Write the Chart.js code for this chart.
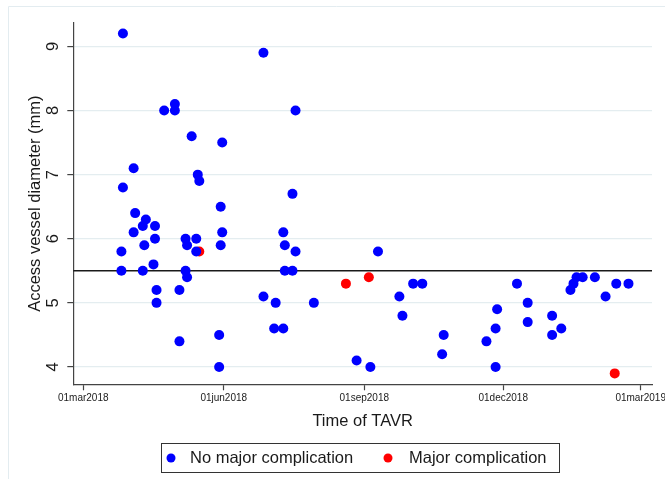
<!DOCTYPE html>
<html>
<head>
<meta charset="utf-8">
<script src="https://cdn.jsdelivr.net/npm/chart.js@4.4.1/dist/chart.umd.min.js"></script>
<style>
html,body{margin:0;padding:0;background:#fff;}
#wrap{width:665px;height:479px;position:relative;}
</style>
</head>
<body>
<div id="wrap"><canvas id="tavrChart" width="665" height="479"></canvas></div>
<script>
// procedure dates and vessel diameters (mm)
const blueDates = [
  '2018-03-27','2018-04-23','2018-04-30','2018-04-30','2018-05-11','2018-04-03','2018-05-15','2018-05-16',
  '2018-03-27','2018-06-27','2018-07-18','2018-05-31','2018-07-16','2018-04-04','2018-04-11','2018-04-09',
  '2018-04-17','2018-04-03','2018-04-10','2018-04-17','2018-03-26','2018-05-07','2018-05-14','2018-05-08',
  '2018-05-14','2018-04-16','2018-03-26','2018-04-09','2018-05-07','2018-05-08','2018-04-18','2018-05-03',
  '2018-04-18','2018-05-03','2018-05-30','2018-05-30','2018-05-29','2018-05-29','2018-05-31','2018-07-10',
  '2018-07-11','2018-07-18','2018-07-11','2018-07-16','2018-06-27','2018-07-05','2018-07-30','2018-07-04',
  '2018-07-10','2018-08-27','2018-09-05','2018-09-10','2018-09-24','2018-09-26','2018-10-03','2018-10-09',
  '2018-10-23','2018-10-22','2018-11-20','2018-11-26','2018-11-27','2018-11-26','2018-12-10','2018-12-17',
  '2018-12-17','2019-01-02','2019-01-02','2019-01-08','2019-01-14','2019-01-16','2019-01-18','2019-01-22',
  '2019-01-30','2019-02-06','2019-02-13','2019-02-21'
];
const blueDiam = [
  9.2,8.0,8.1,8.0,7.6,7.1,7.0,6.9,
  6.8,8.9,8.0,7.5,6.7,6.4,6.3,6.2,
  6.2,6.1,5.9,6.0,5.8,6.0,6.0,5.9,
  5.8,5.6,5.5,5.5,5.5,5.4,5.2,5.2,
  5.0,4.4,6.5,5.9,4.5,4.0,6.1,6.1,
  5.9,5.8,5.5,5.5,5.1,5.0,5.0,4.6,
  4.6,4.1,4.0,5.8,5.1,4.8,5.3,5.3,
  4.5,4.2,4.4,4.6,4.9,4.0,5.3,5.0,
  4.7,4.8,4.5,4.6,5.2,5.3,5.4,5.4,
  5.4,5.1,5.3,5.3
];
const redDates = ['2018-05-16','2018-08-20','2018-09-04','2019-02-12'];
const redDiam = [5.8,5.3,5.4,3.9];

const xTickDates = ['2018-03-01','2018-06-01','2018-09-01','2018-12-01','2019-03-01'];
const xTickLabels = ['01mar2018','01jun2018','01sep2018','01dec2018','01mar2019'];
const yTicks = [4,5,6,7,8,9];
const cutoff = 5.5;

const seriesNames = ['No major complication','Major complication'];
const seriesColors = ['#0000ff','#ff0000'];

const base = Date.UTC(2018,2,1);
function dayOf(d){ return (Date.parse(d)-base)/86400000; }
function pts(dates, vals){ return dates.map((d,i)=>({x:dayOf(d), y:vals[i]})); }

const FONT = '"Liberation Sans", Arial, Helvetica, sans-serif';
Chart.defaults.font.family = FONT;

const stataDecor = {
  id:'stataDecor',
  beforeDraw(chart){
    const ctx = chart.ctx;
    ctx.save();
    ctx.strokeStyle = '#e3ecf0'; ctx.lineWidth = 1;
    ctx.beginPath();
    ctx.moveTo(8.5, chart.height); ctx.lineTo(8.5, 6.5); ctx.lineTo(chart.width, 6.5);
    ctx.stroke();
    ctx.restore();
  },
  beforeDatasetsDraw(chart){
    const {ctx, chartArea:a, scales:{y}} = chart;
    const py = y.getPixelForValue(cutoff);
    ctx.save();
    ctx.strokeStyle = '#1a1a1a'; ctx.lineWidth = 1.6;
    ctx.beginPath(); ctx.moveTo(a.left, py); ctx.lineTo(a.right, py); ctx.stroke();
    ctx.restore();
  },
  afterDraw(chart){
    const {ctx, scales:{y}} = chart;
    ctx.save();
    ctx.fillStyle = '#1a1a1a';
    ctx.font = '16.5px ' + FONT;
    ctx.textAlign = 'center'; ctx.textBaseline = 'middle';
    yTicks.forEach(v=>{
      ctx.save();
      ctx.translate(53, y.getPixelForValue(v));
      ctx.rotate(-Math.PI/2);
      ctx.fillText(String(v), 0, 0);
      ctx.restore();
    });
    // legend box
    ctx.strokeStyle = '#333'; ctx.lineWidth = 1;
    ctx.strokeRect(161.5, 443.5, 398, 29);
    const items = [{mx:171, tx:190}, {mx:388, tx:409}];
    ctx.textAlign = 'left';
    chart.data.datasets.forEach((ds,i)=>{
      ctx.fillStyle = ds.backgroundColor;
      ctx.beginPath(); ctx.arc(items[i].mx, 458, 4.5, 0, Math.PI*2); ctx.fill();
      ctx.fillStyle = '#1a1a1a';
      ctx.fillText(ds.label, items[i].tx, 458);
    });
    ctx.restore();
  }
};

new Chart(document.getElementById('tavrChart'), {
  type:'scatter',
  data:{
    datasets:[
      {label:seriesNames[0], data:pts(blueDates, blueDiam), backgroundColor:seriesColors[0], borderWidth:0, pointRadius:5, pointHoverRadius:5},
      {label:seriesNames[1], data:pts(redDates, redDiam), backgroundColor:seriesColors[1], borderWidth:0, pointRadius:5, pointHoverRadius:5}
    ]
  },
  options:{
    responsive:false, animation:false, devicePixelRatio:1,
    layout:{padding:{left:0, right:13, top:23, bottom:0}},
    plugins:{legend:{display:false}, tooltip:{enabled:false}},
    scales:{
      x:{
        type:'linear', min:-6.5, max:372.4,
        afterBuildTicks: s=>{ s.ticks = xTickDates.map(d=>({value:dayOf(d)})); },
        afterFit: s=>{ s.height = 94.7; s.paddingLeft = 0; s.paddingRight = 0; },
        ticks:{ autoSkip:false, maxRotation:0, minRotation:0, padding:2, color:'#1a1a1a', font:{size:10},
          callback:(v,i)=>xTickLabels[i] },
        grid:{ drawOnChartArea:false, drawTicks:true, tickLength:6, tickColor:'#444', tickWidth:1.2 },
        border:{ display:true, color:'#444', width:1.2 },
        title:{ display:true, text:'Time of TAVR', color:'#1a1a1a', font:{size:16.5}, padding:{top:0, bottom:47.4} }
      },
      y:{
        type:'linear', min:3.73, max:9.365,
        afterBuildTicks: s=>{ s.ticks = yTicks.map(v=>({value:v})); },
        afterFit: s=>{ s.width = 73.3; },
        ticks:{ display:false },
        grid:{ color:'#e4edf0', lineWidth:1.2, drawTicks:true, tickLength:6, tickColor:'#444', tickWidth:1.2 },
        border:{ display:true, color:'#444', width:1.2 },
        title:{ display:true, text:'Access vessel diameter (mm)', color:'#1a1a1a', font:{size:16.5}, padding:{top:25.1, bottom:0} }
      }
    }
  },
  plugins:[stataDecor]
});
</script>
</body>
</html>
